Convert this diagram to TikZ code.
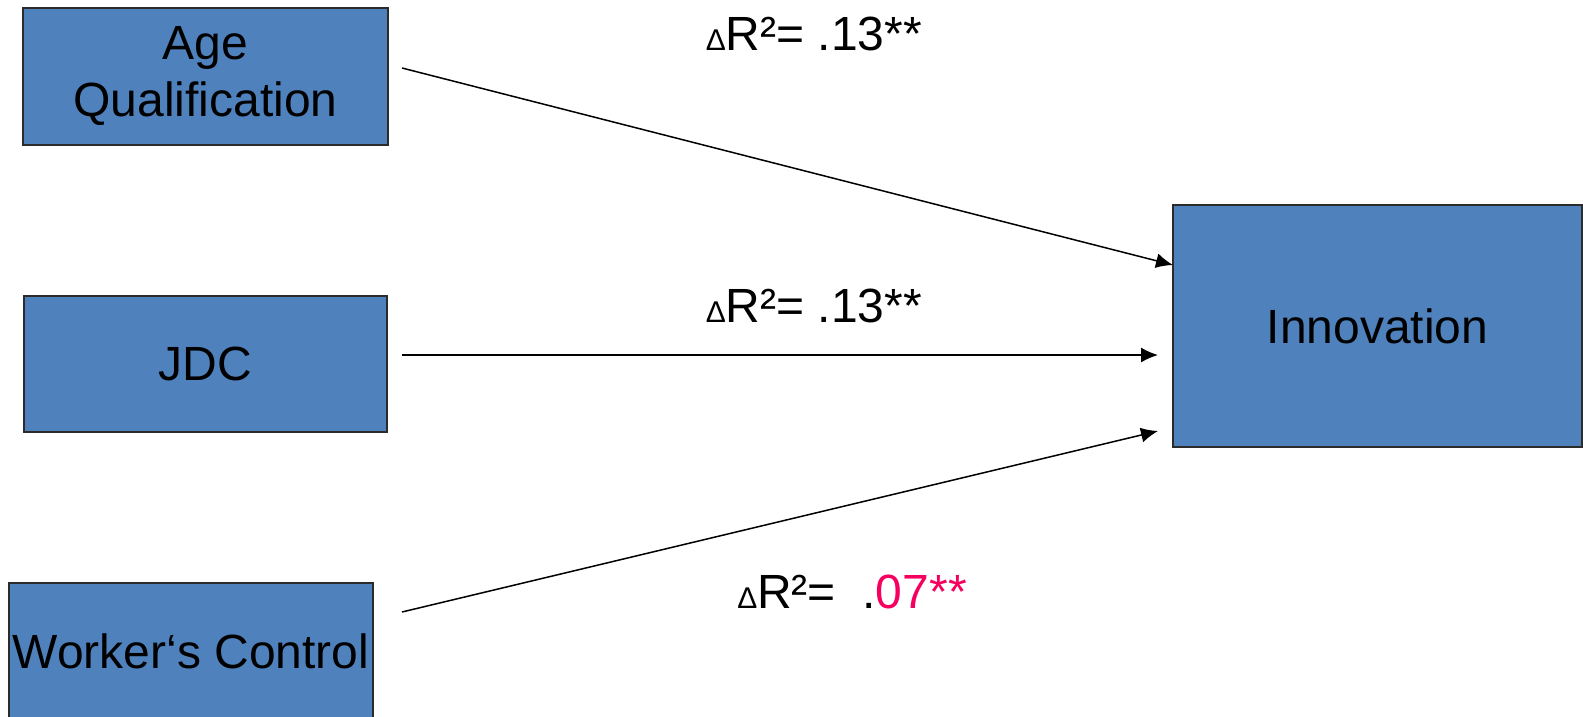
\documentclass[tikz,border=0pt]{standalone}
\usepackage{fontspec}
\setmainfont{Liberation Sans}
\usetikzlibrary{arrows.meta}
\definecolor{boxblue}{HTML}{4F81BD}
\definecolor{boxedge}{HTML}{2B2B2B}
\definecolor{hotpink}{HTML}{F5005F}
\newcommand{\dR}{{\fontsize{30}{30}\selectfont Δ}R²=}
\begin{document}
\begin{tikzpicture}[x=1pt,y=-1pt,
  blockbox/.style={draw=boxedge, line width=1.5pt, fill=boxblue, inner sep=0pt,
    align=center, font=\fontsize{48}{57}\selectfont},
  conn/.style={line width=1.5pt, -{Latex[length=17pt,width=15pt]}},
  lbl/.style={anchor=base, inner sep=0pt, font=\fontsize{48}{57}\selectfont}]
\useasboundingbox (0,0) rectangle (1583,716);
\node[blockbox, minimum width=365pt, minimum height=137pt] (age) at (205.5,76.5) {\raisebox{-4pt}{\parbox{360pt}{\centering Age\\Qualification}}};
\node[blockbox, minimum width=363pt, minimum height=136pt] (jdc) at (205.5,364) {JDC};
\node[blockbox, minimum width=364pt, minimum height=136pt] (wc) at (191,651) {Worker‘s Control};
\node[blockbox, minimum width=409pt, minimum height=242pt] (inn) at (1377.5,326) {Innovation};
\coordinate (s1) at (402,68);
\coordinate (s2) at (402,355);
\coordinate (s3) at (402,612);
\coordinate (e1) at (1173,265);
\coordinate (e2) at (1158,355);
\coordinate (e3) at (1158,431);
\draw[conn] (s1) -- (e1);
\draw[conn] (s2) -- (e2);
\draw[conn] (s3) -- (e3);
\node[lbl] (l1) at (814,50) {\dR{} .13**};
\node[lbl] (l2) at (814,322) {\dR{} .13**};
\node[lbl] (l3) at (852,608) {\dR{}\ \ .\textcolor{hotpink}{07**}};
\end{tikzpicture}
\end{document}
